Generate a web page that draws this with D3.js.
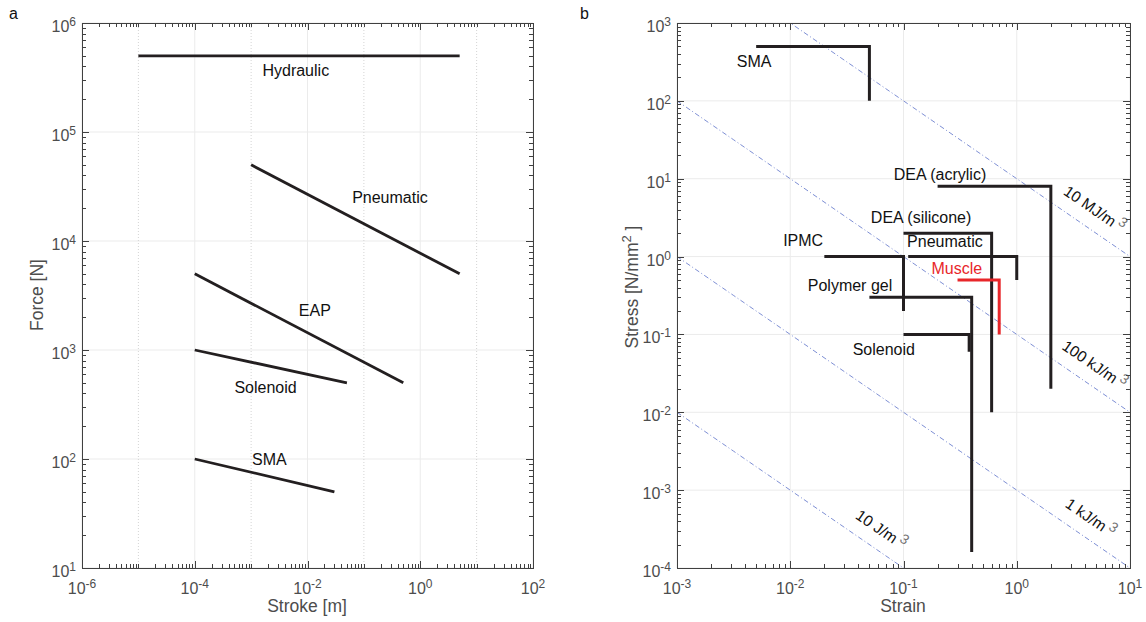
<!DOCTYPE html>
<html>
<head>
<meta charset="utf-8">
<script src="https://cdn.jsdelivr.net/npm/d3@7"></script>
<style>
  body { margin: 0; background: #fff; }
  svg { display: block; font-family: "Liberation Sans", Arial, sans-serif; }
</style>
</head>
<body>
<svg id="chart" width="1146" height="622"></svg>
<script>
// panel a: force vs stroke, each actuator is a segment from (strokeStart, forceStart) to (strokeEnd, forceEnd)
const strokeNames = ["Hydraulic", "Pneumatic", "EAP", "Solenoid", "SMA"];
const strokeStart = [1e-5, 1e-3, 1e-4, 1e-4, 1e-4];
const strokeEnd = [5, 5, 0.5, 0.05, 0.03];
const forceStart = [5e5, 5e4, 5e3, 1e3, 100];
const forceEnd = [5e5, 5e3, 500, 500, 50];
const strokeLabelX = [6.2e-3, 0.29, 0.0135, 1.8e-3, 2.1e-3];
const strokeLabelY = [3.7e5, 2.5e4, 2.3e3, 450, 100];
const strokeTickExps = [-6, -4, -2, 0, 2];
const forceTickExps = [1, 2, 3, 4, 5, 6];

// panel b: stress vs strain, drawn as a corner: max stress over the strain range, down to min stress at max strain
const strainNames = ["SMA", "DEA (acrylic)", "DEA (silicone)", "Pneumatic", "IPMC", "Muscle", "Polymer gel", "Solenoid"];
const strainMin = [0.005, 0.2, 0.1, 0.11, 0.02, 0.3, 0.05, 0.1];
const strainMax = [0.05, 2, 0.6, 1, 0.1, 0.7, 0.4, 0.38];
const stressMin = [100, 0.02, 0.01, 0.5, 0.2, 0.1, 1.6e-4, 0.06];
const stressMax = [500, 8, 2, 1, 1, 0.5, 0.3, 0.1];
const strainLabelX = [0.0048, 0.21, 0.143, 0.232, 0.013, 0.296, 0.0337, 0.067];
const strainLabelY = [325, 11.5, 3.14, 1.55, 1.59, 0.695, 0.43, 0.065];
const strainTickExps = [-3, -2, -1, 0, 1];
const stressTickExps = [-4, -3, -2, -1, 0, 1, 2, 3];

// constant energy density lines (stress in N/mm^2 times strain = MJ/m^3)
const energyValues = [10, 0.1, 1e-3, 1e-5];
const energyNames = ["10 MJ/m", "100 kJ/m", "1 kJ/m", "10 J/m"];
const energyLabelStrain = [3.9, 3.9, 3.6, 0.051];

const svg = d3.select("#chart");
const ink = "#231f20";
const red = "#e8262a";
const axisColor = "#404040";
const tickText = "#4d4d4d";

function expText(e) {
  return e < 0 ? "-" + (-e) : String(e);
}

function powLabel(text, e) {
  text.append("tspan").text("10");
  text.append("tspan").attr("dy", -6).attr("font-size", 12).text(expText(e));
}

function logTicks(domain) {
  const a = Math.round(Math.log10(domain[0]));
  const b = Math.round(Math.log10(domain[1]));
  const out = [];
  for (let e = a; e <= b; e++) {
    out.push({ v: Math.pow(10, e), e: e });
    if (e < b) for (let k = 2; k <= 9; k++) out.push({ v: k * Math.pow(10, e), e: null });
  }
  return out;
}

function drawFrame(g, x, y, xExps, yExps, dottedOdd) {
  const [x0, x1] = x.range();
  const [y0, y1] = y.range();
  const xt = logTicks(x.domain());
  const yt = logTicks(y.domain());
  const decadesX = xt.filter((d) => d.e !== null);
  const decadesY = yt.filter((d) => d.e !== null);

  const grid = g.append("g");
  grid.selectAll(".gy").data(decadesY).join("line")
    .attr("x1", x0).attr("x2", x1)
    .attr("y1", (d) => y(d.v)).attr("y2", (d) => y(d.v))
    .attr("stroke", "#ebebeb").attr("stroke-width", 1);
  grid.selectAll(".gx").data(decadesX).join("line")
    .attr("y1", y0).attr("y2", y1)
    .attr("x1", (d) => x(d.v)).attr("x2", (d) => x(d.v))
    .attr("stroke", (d) => (dottedOdd && !xExps.includes(d.e)) ? "#d4d4d4" : "#ebebeb")
    .attr("stroke-dasharray", (d) => (dottedOdd && !xExps.includes(d.e)) ? "1,2" : null)
    .attr("stroke-width", 1);
  return { xt, yt };
}

function drawAxes(g, x, y, xExps, yExps, ticks) {
  const [x0, x1] = x.range();
  const [y0, y1] = y.range();
  const len = (d, exps) => (d.e !== null && exps.includes(d.e)) ? 7 : 4;
  const t = g.append("g").attr("stroke", axisColor).attr("stroke-width", 1);
  ticks.xt.forEach((d) => {
    const px = Math.round(x(d.v)) + 0.5;
    const l = len(d, xExps);
    t.append("line").attr("x1", px).attr("x2", px).attr("y1", y0).attr("y2", y0 - l);
    t.append("line").attr("x1", px).attr("x2", px).attr("y1", y1).attr("y2", y1 + l);
  });
  ticks.yt.forEach((d) => {
    const py = Math.round(y(d.v)) + 0.5;
    const l = len(d, yExps);
    t.append("line").attr("y1", py).attr("y2", py).attr("x1", x0).attr("x2", x0 + l);
    t.append("line").attr("y1", py).attr("y2", py).attr("x1", x1).attr("x2", x1 - l);
  });
  g.append("rect")
    .attr("x", x0 + 0.5).attr("y", y1 + 0.5)
    .attr("width", x1 - x0).attr("height", y0 - y1)
    .attr("fill", "none").attr("stroke", axisColor).attr("stroke-width", 1);

  g.append("g").selectAll("text").data(xExps).join("text")
    .attr("x", (e) => x(Math.pow(10, e)))
    .attr("y", y0 + 26)
    .attr("text-anchor", "middle")
    .attr("font-size", 16)
    .attr("fill", tickText)
    .each(function (e) { powLabel(d3.select(this), e); });

  g.append("g").selectAll("text").data(yExps).join("text")
    .attr("x", x0 - 6)
    .attr("y", (e) => y(Math.pow(10, e)) + 9)
    .attr("text-anchor", "end")
    .attr("font-size", 16)
    .attr("fill", tickText)
    .each(function (e) { powLabel(d3.select(this), e); });
}

// ---------- panel a ----------
const xa = d3.scaleLog().domain([1e-6, 1e2]).range([82, 533]);
const ya = d3.scaleLog().domain([10, 1e6]).range([568, 23]);
const ga = svg.append("g");
const ticksA = drawFrame(ga, xa, ya, strokeTickExps, forceTickExps, true);

ga.append("g").selectAll("line").data(strokeNames).join("line")
  .attr("x1", (d, i) => xa(strokeStart[i]))
  .attr("y1", (d, i) => ya(forceStart[i]))
  .attr("x2", (d, i) => xa(strokeEnd[i]))
  .attr("y2", (d, i) => ya(forceEnd[i]))
  .attr("stroke", ink).attr("stroke-width", 2.8);

ga.append("g").selectAll("text").data(strokeNames).join("text")
  .attr("x", (d, i) => xa(strokeLabelX[i]))
  .attr("y", (d, i) => ya(strokeLabelY[i]))
  .attr("dy", "0.35em")
  .attr("text-anchor", "middle")
  .attr("font-size", 16)
  .attr("fill", "#111")
  .text((d) => d);

drawAxes(ga, xa, ya, strokeTickExps, forceTickExps, ticksA);

ga.append("text").attr("x", 307).attr("y", 612).attr("text-anchor", "middle")
  .attr("font-size", 17.5).attr("fill", tickText).text("Stroke [m]");
ga.append("text").attr("transform", "translate(43,295) rotate(-90)").attr("text-anchor", "middle")
  .attr("font-size", 17.5).attr("fill", tickText).text("Force [N]");
svg.append("text").attr("x", 9).attr("y", 19).attr("font-size", 16).attr("fill", "#111").text("a");

// ---------- panel b ----------
const xb = d3.scaleLog().domain([1e-3, 10]).range([677, 1130]);
const yb = d3.scaleLog().domain([1e-4, 1e3]).range([568, 23]);
const gb = svg.append("g");
const ticksB = drawFrame(gb, xb, yb, strainTickExps, stressTickExps, false);

gb.append("clipPath").attr("id", "clipb").append("rect")
  .attr("x", 677).attr("y", 23).attr("width", 453).attr("height", 545);

const strainGrid = d3.range(-3, 1.001, 0.5).map((e) => Math.pow(10, e));
const energyLine = d3.line().x((d) => xb(d[0])).y((d) => yb(d[1]));
gb.append("g").attr("clip-path", "url(#clipb)")
  .selectAll("path").data(energyValues).join("path")
  .attr("d", (w) => energyLine(strainGrid.map((s) => [s, w / s])))
  .attr("fill", "none")
  .attr("stroke", "#5d72c9")
  .attr("stroke-width", 0.8)
  .attr("stroke-dasharray", "5,2.5,1,2.5");

const angle = Math.atan2(yb(0.1) - yb(1), xb(10) - xb(1)) * 180 / Math.PI;
gb.append("g").selectAll("text").data(energyValues).join("text")
  .attr("transform", (w, i) => {
    const s = energyLabelStrain[i];
    return `translate(${xb(s)},${yb(w / s)}) rotate(${angle})`;
  })
  .attr("y", -19)
  .attr("dy", "0.35em")
  .attr("text-anchor", "middle")
  .attr("font-size", 15.5)
  .attr("fill", "#111")
  .each(function (w, i) {
    const t = d3.select(this);
    t.append("tspan").text(energyNames[i]);
    t.append("tspan").attr("dx", 3).attr("dy", -6).attr("font-size", 14).attr("fill", "#777").text("3");
  });

const corner = (i) => {
  const p = d3.path();
  p.moveTo(xb(strainMin[i]), yb(stressMax[i]));
  p.lineTo(xb(strainMax[i]), yb(stressMax[i]));
  p.lineTo(xb(strainMax[i]), yb(stressMin[i]));
  return p.toString();
};
gb.append("g").selectAll("path").data(strainNames).join("path")
  .attr("d", (d, i) => corner(i))
  .attr("fill", "none")
  .attr("stroke", (d) => d === "Muscle" ? red : ink)
  .attr("stroke-width", 3)
  .attr("stroke-linejoin", "miter");

gb.append("g").selectAll("text").data(strainNames).join("text")
  .attr("x", (d, i) => xb(strainLabelX[i]))
  .attr("y", (d, i) => yb(strainLabelY[i]))
  .attr("dy", "0.35em")
  .attr("text-anchor", "middle")
  .attr("font-size", 16)
  .attr("fill", (d) => d === "Muscle" ? red : "#111")
  .text((d) => d);

drawAxes(gb, xb, yb, strainTickExps, stressTickExps, ticksB);

gb.append("text").attr("x", 903).attr("y", 612).attr("text-anchor", "middle")
  .attr("font-size", 17.5).attr("fill", tickText).text("Strain");
const stressTitle = gb.append("text").attr("transform", "translate(638,287) rotate(-90)")
  .attr("text-anchor", "middle").attr("font-size", 17.5).attr("fill", tickText);
stressTitle.append("tspan").text("Stress [N/mm");
stressTitle.append("tspan").attr("dy", -7).attr("font-size", 13).text("2");
stressTitle.append("tspan").attr("dy", 7).text(" ]");
svg.append("text").attr("x", 580).attr("y", 19).attr("font-size", 16).attr("fill", "#111").text("b");
</script>
</body>
</html>
